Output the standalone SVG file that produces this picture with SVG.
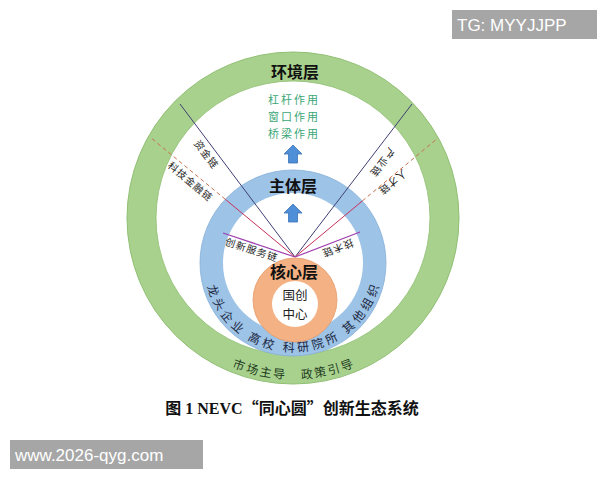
<svg xmlns="http://www.w3.org/2000/svg" width="600" height="480" viewBox="0 0 600 480">
<style>
.cjk{font-family:"Noto Sans CJK SC","Noto Sans",sans-serif}
.title{font-weight:bold;font-size:16px;fill:#111;text-anchor:middle}
.role{font-size:11px;fill:#3aa676;text-anchor:middle;letter-spacing:2px}
.chain{font-size:10px;fill:#222;text-anchor:middle;dominant-baseline:central;letter-spacing:1px}
.bch{font-size:12px;fill:#1c2742;text-anchor:middle}
.gch{font-size:12px;fill:#1f3d1f;text-anchor:middle}
.wm{font-family:"Liberation Sans",Arial,sans-serif;font-size:17px;fill:#fff}
.navy{stroke:#3f3f74;stroke-width:1;fill:none}
.red{stroke:#c8305a;stroke-width:1;fill:none}
.dash{stroke:#c87050;stroke-width:1;stroke-dasharray:4 3;fill:none}
.mag{stroke:#a040b0;stroke-width:1.2;fill:none}
</style>
<defs>
<path id="arrow" d="M0,-9 L9,0 L4.5,0 L4.5,9 L-4.5,9 L-4.5,0 L-9,0 Z" fill="#4f8fd8" stroke="#3a72b8" stroke-width="0.8"/>
</defs>
<rect width="600" height="480" fill="#fff"/>

<g id="environment-layer">
<circle cx="293" cy="218" r="166" fill="#a9d18e" stroke="#8fbf72" stroke-width="1"/>
<circle cx="293" cy="218" r="137" fill="#fff" stroke="#8fbf72" stroke-width="0.8"/>
</g>
<g id="subject-layer">
<circle cx="293" cy="263" r="93" fill="#9dc3e6" stroke="#86b0d8" stroke-width="0.8"/>
<circle cx="293" cy="263" r="70" fill="#fff"/>
</g>

<g id="connectors">
<line class="navy" x1="295" y1="257" x2="180" y2="104"/>
<line class="red" x1="295" y1="257" x2="225.3" y2="199.3"/>
<line class="dash" x1="225.3" y1="199.3" x2="150" y2="137"/>
<line class="mag" x1="295" y1="257" x2="223" y2="233"/>
<line class="navy" x1="295" y1="257" x2="412" y2="104"/>
<line class="red" x1="295" y1="257" x2="362.4" y2="200.9"/>
<line class="dash" x1="362.4" y1="200.9" x2="438" y2="138"/>
<line class="mag" x1="295" y1="257" x2="360" y2="232"/>
</g>

<g id="chain-labels" class="cjk">
<text class="chain" transform="translate(207,154) rotate(53)">资金链</text>
<text class="chain" transform="translate(191,181) rotate(40)">科技金融链</text>
<text class="chain" transform="translate(252,249) rotate(18)">创新服务链</text>
<text class="chain" transform="translate(383,163) rotate(127)">产业链</text>
<text class="chain" transform="translate(393,183) rotate(140)">人才链</text>
<text class="chain" transform="translate(338,249) rotate(159)">技术链</text>
</g>

<g id="core-layer">
<circle cx="295" cy="300" r="42" fill="#f4b183" stroke="#e39a6a" stroke-width="0.8"/>
<circle cx="295" cy="304" r="23" fill="#fff"/>
<text class="cjk title" x="294" y="278" font-size="17">核心层</text>
<text class="cjk" x="295" y="300" font-size="12.5" fill="#222" text-anchor="middle">国创</text>
<text class="cjk" x="295" y="319" font-size="12.5" fill="#222" text-anchor="middle">中心</text>
</g>

<g id="subject-labels" class="cjk">
<text class="title" x="293" y="192">主体层</text>
<text class="bch" transform="translate(208.9,292.2) rotate(70.85)">龙</text>
<text class="bch" transform="translate(215.3,306.3) rotate(60.87)">头</text>
<text class="bch" transform="translate(223.9,319.1) rotate(50.89)">企</text>
<text class="bch" transform="translate(234.7,330.2) rotate(40.91)">业</text>
<text class="bch" transform="translate(252.7,342.3) rotate(26.94)">高</text>
<text class="bch" transform="translate(267.0,348.1) rotate(16.96)">校</text>
<text class="bch" transform="translate(288.4,351.9) rotate(2.99)">科</text>
<text class="bch" transform="translate(303.8,351.3) rotate(-6.98)">研</text>
<text class="bch" transform="translate(319.0,348.1) rotate(-16.96)">院</text>
<text class="bch" transform="translate(333.3,342.3) rotate(-26.94)">所</text>
<text class="bch" transform="translate(351.3,330.2) rotate(-40.91)">其</text>
<text class="bch" transform="translate(362.1,319.1) rotate(-50.89)">他</text>
<text class="bch" transform="translate(370.7,306.3) rotate(-60.87)">组</text>
<text class="bch" transform="translate(377.1,292.2) rotate(-70.85)">织</text>
</g>

<g id="environment-labels" class="cjk">
<text class="title" x="295" y="78">环境层</text>
<text class="role" x="294" y="104">杠杆作用</text>
<text class="role" x="294" y="121">窗口作用</text>
<text class="role" x="294" y="138">桥梁作用</text>
<text class="gch" transform="translate(237.5,369.1) rotate(20.18)">市</text>
<text class="gch" transform="translate(251.2,373.5) rotate(15.04)">场</text>
<text class="gch" transform="translate(265.0,376.5) rotate(10.02)">主</text>
<text class="gch" transform="translate(278.7,378.4) rotate(5.08)">导</text>
<text class="gch" transform="translate(307.3,378.4) rotate(-5.08)">政</text>
<text class="gch" transform="translate(321.0,376.5) rotate(-10.02)">策</text>
<text class="gch" transform="translate(334.8,373.5) rotate(-15.04)">引</text>
<text class="gch" transform="translate(348.5,369.1) rotate(-20.18)">导</text>
</g>

<g id="arrows">
<use href="#arrow" x="293" y="154"/>
<use href="#arrow" x="293" y="213"/>
</g>

<text id="caption" x="292" y="414" font-family="'Liberation Serif','Noto Sans CJK SC',serif" font-weight="bold" font-size="16" fill="#111" text-anchor="middle">图 1 NEVC<tspan font-family="'Noto Sans CJK SC',sans-serif">“</tspan>同心圆<tspan font-family="'Noto Sans CJK SC',sans-serif">”</tspan>创新生态系统</text>

<g id="watermarks">
<rect x="452" y="10" width="145" height="29" fill="#a6a6a6"/>
<text class="wm" x="457" y="31">TG: MYYJJPP</text>
<rect x="10" y="440" width="193" height="29" fill="#a6a6a6"/>
<text class="wm" x="15" y="461">www.2026-qyg.com</text>
</g>
</svg>
